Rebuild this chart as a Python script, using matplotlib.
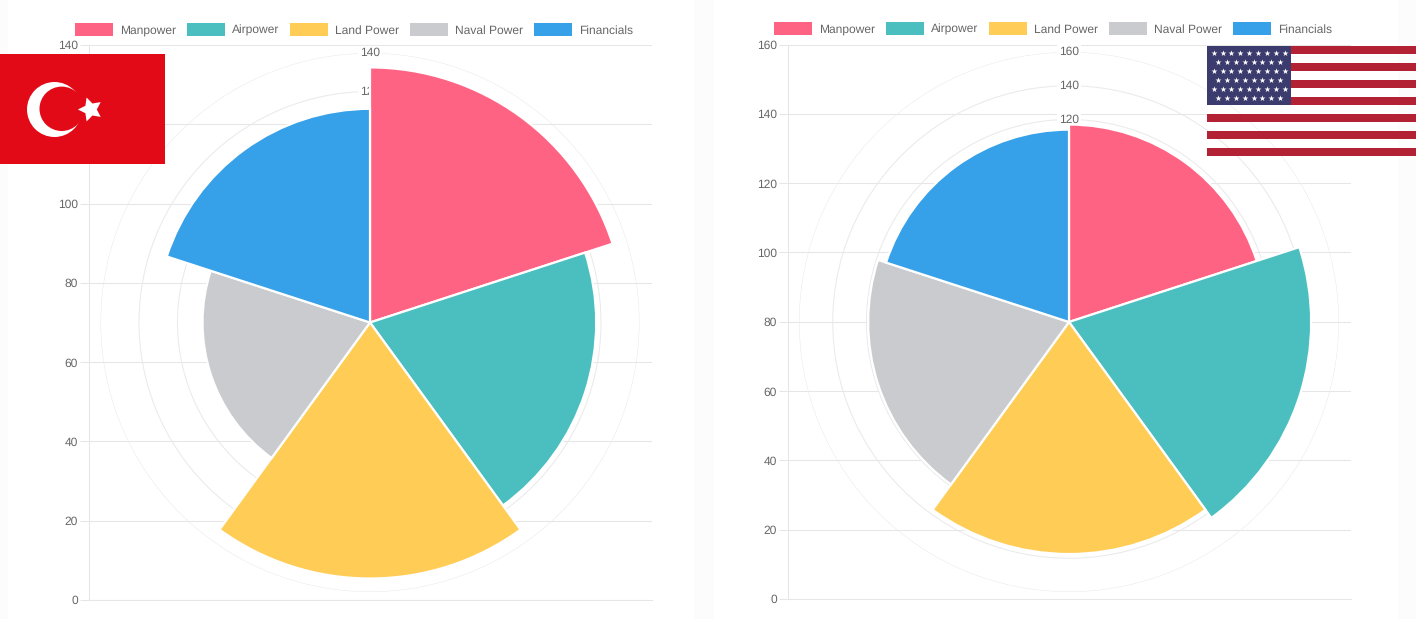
import numpy as np
import matplotlib
matplotlib.use("Agg")
import matplotlib.pyplot as plt
from matplotlib.patches import Rectangle, Circle

categories = ["Manpower", "Airpower", "Land Power", "Naval Power", "Financials"]
colors = ["#FF6384", "#4BBFBF", "#FFCD56", "#C9CBCF", "#36A0E8"]
turkey_values = [132.5, 117.5, 133, 87, 111]
usa_values = [117, 143.5, 137.5, 119, 114]
turkey_ticks = [0, 20, 40, 60, 80, 100, 120, 140]
usa_ticks = [0, 20, 40, 60, 80, 100, 120, 140, 160]

W, H = 1416, 619
plt.rcParams["font.family"] = ["Liberation Sans", "DejaVu Sans"]
plt.rcParams["text.hinting"] = "no_hinting"
plt.rcParams["text.hinting_factor"] = 1
FS = 8.64
TXT = "#666666"
GRID = "#E6E6E6"
RING = "#EAEAEA"

fig = plt.figure(figsize=(W / 100, H / 100), dpi=100, facecolor="#FCFCFC")


def rect(x0, y0, x1, y1):
    return [x0 / W, 1 - y1 / H, (x1 - x0) / W, (y1 - y0) / H]


bg = fig.add_axes([0, 0, 1, 1], zorder=0)
bg.set_xlim(0, W)
bg.set_ylim(H, 0)
bg.axis("off")
bg.add_patch(Rectangle((8, 0), 686, H, fc="white", ec="none"))
bg.add_patch(Rectangle((714, 0), 684, H, fc="white", ec="none"))


def chart(values, ticks, box, center, radius, legend_left, legend_y):
    x0, y0, x1, y1 = box
    ax = fig.add_axes(rect(x0, y0, x1, y1), zorder=1)
    ax.patch.set_alpha(0)
    ax.set_xlim(0, 1)
    ax.set_ylim(0, ticks[-1])
    ax.set_xticks([])
    ax.set_yticks(ticks)
    ax.tick_params(axis="y", length=6.5, width=0.75, color=GRID, labelcolor=TXT,
                   labelsize=FS, pad=1.5)
    ax.grid(axis="y", color=GRID, lw=0.75)
    ax.set_axisbelow(True)
    for s in ("top", "right"):
        ax.spines[s].set_visible(False)
    for s in ("left", "bottom"):
        ax.spines[s].set_color(GRID)
        ax.spines[s].set_linewidth(0.75)

    cx, cy = center
    pol = fig.add_axes(rect(cx - radius, cy - radius, cx + radius, cy + radius),
                       projection="polar", zorder=2)
    pol.patch.set_alpha(0)
    pol.set_theta_zero_location("N")
    pol.set_theta_direction(-1)
    pol.set_ylim(0, ticks[-1])
    pol.set_xticks([])
    pol.set_yticks(ticks[1:])
    pol.set_yticklabels([])
    pol.set_axisbelow(True)
    pol.grid(True, axis="y", color=RING, lw=0.75)
    pol.spines["polar"].set_visible(False)
    for t in ticks[1:]:
        pol.text(0, t, str(t), ha="center", va="center", fontsize=FS, color=TXT,
                 zorder=1, bbox=dict(fc="white", ec="none", pad=1.2))
    step = 2 * np.pi / len(values)
    thetas = (np.arange(len(values)) + 0.5) * step
    bars = pol.bar(thetas, values, width=step, color=colors, edgecolor="white",
                   linewidth=1.6, zorder=2)
    handles = [Rectangle((0, 0), 1, 1, fc=c, ec="none") for c in colors]
    ax.legend(handles, categories, loc="center left", ncol=5, frameon=False,
              bbox_to_anchor=(legend_left / W, 1 - legend_y / H),
              bbox_transform=fig.transFigure, fontsize=FS, labelcolor=TXT,
              handlelength=3.17, handleheight=1.27, handletextpad=0.6,
              columnspacing=0.88, borderpad=0, borderaxespad=0)
    return bars


chart(turkey_values, turkey_ticks, (89, 45, 652, 600), (370, 322.5), 269.5, 75, 29.5)
chart(usa_values, usa_ticks, (788, 44.5, 1351, 599), (1069, 322), 270, 774, 28.5)

ov = fig.add_axes([0, 0, 1, 1], zorder=5)
ov.set_xlim(0, W)
ov.set_ylim(H, 0)
ov.axis("off")

# Turkish flag
ov.add_patch(Rectangle((0, 54), 165, 110, fc="#E30A17", ec="none"))
ov.add_patch(Circle((54.5, 109.5), 27.5, fc="white", ec="none"))
ov.add_patch(Circle((61.7, 108.8), 22.2, fc="#E30A17", ec="none"))
ov.scatter([89.5], [109], marker=(5, 1, 90), s=330, c="white", linewidths=0)

# US flag
fx0, fx1, fy0, fy1 = 1207, 1416, 46, 156
sh = (fy1 - fy0) / 13
for i in range(0, 13, 2):
    ov.add_patch(Rectangle((fx0, fy0 + i * sh), fx1 - fx0, sh, fc="#B22234", ec="none"))
ov.add_patch(Rectangle((fx0, fy0), 84, 7 * sh, fc="#3C3B6E", ec="none"))
sx, sy = [], []
for r in range(6):
    n = 9 if r % 2 == 0 else 8
    off = 6.7 if r % 2 == 0 else 11.2
    for c in range(n):
        sx.append(fx0 + off + c * 8.85)
        sy.append(fy0 + 6.7 + r * 9.1)
ov.scatter(sx, sy, marker="*", s=20, c="white", linewidths=0)

fig.savefig("out.png", dpi=100, facecolor=fig.get_facecolor())
